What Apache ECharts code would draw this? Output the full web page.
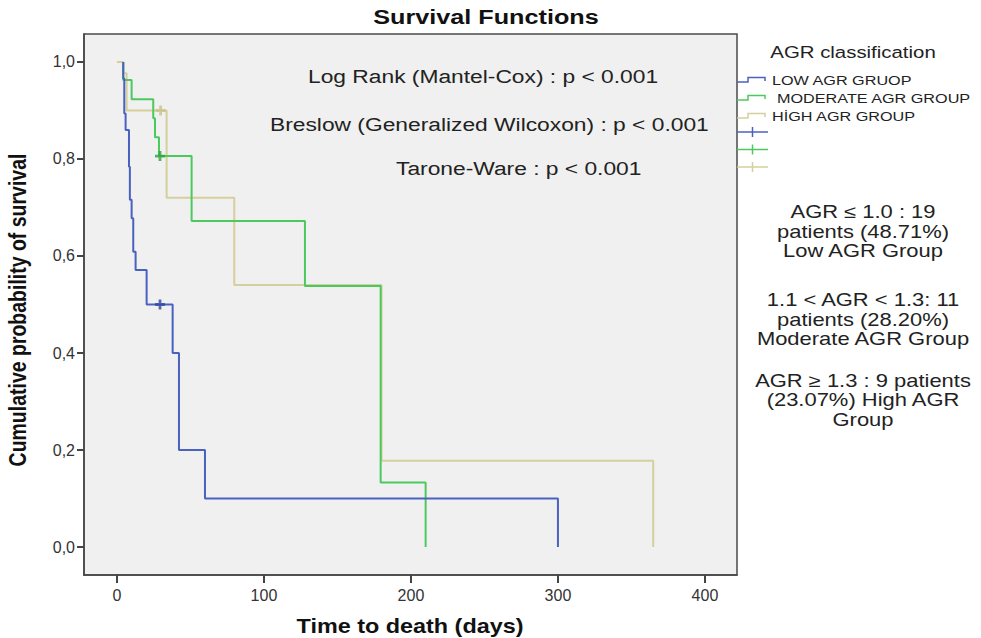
<!DOCTYPE html>
<html>
<head>
<meta charset="utf-8">
<script src="https://cdn.jsdelivr.net/npm/echarts@6/dist/echarts.min.js"></script>
<style>html,body{margin:0;padding:0;background:#fff;}#c{width:981px;height:638px;}</style>
</head>
<body>
<div id="c"></div>
<script>
// ---- data ----
const lowDays  = [4.3, 4.3, 5.0, 5.9, 8.2, 8.8, 10.0, 11.1, 12.7, 20.2, 37.9, 42.2, 59.9, 300];
const lowSurv  = [1, 0.966, 0.894, 0.86, 0.784, 0.716, 0.678, 0.609, 0.571, 0.5, 0.4, 0.2, 0.1, 0];
const modDays  = [4.3, 4.3, 10.0, 24.7, 25.9, 28.6, 50.8, 127.9, 179.4, 210];
const modSurv  = [1, 0.963, 0.923, 0.884, 0.845, 0.806, 0.672, 0.538, 0.133, 0];
const highDays = [0, 4.3, 6.6, 33.8, 79.8, 180, 364.8];
const highSurv = [1, 0.977, 0.9, 0.72, 0.54, 0.178, 0];
const lowCensorDays = [29.3],  lowCensorSurv = [0.5];
const modCensorDays = [29.3],  modCensorSurv = [0.806];
const highCensorDays = [29.7], highCensorSurv = [0.9];
const seriesNames = ['LOW AGR GRUOP', 'MODERATE AGR GROUP', 'HİGH AGR GROUP'];
const xTicks = [0, 100, 200, 300, 400];
const yTicks = [0, 0.2, 0.4, 0.6, 0.8, 1.0];
const testLines = ['Log Rank (Mantel-Cox) : p < 0.001', 'Breslow (Generalized Wilcoxon) : p < 0.001', 'Tarone-Ware : p < 0.001'];
const noteLines = [
  ['AGR \u2264 1.0 : 19', 'patients (48.71%)', 'Low AGR Group'],
  ['1.1 < AGR < 1.3: 11', 'patients (28.20%)', 'Moderate AGR Group'],
  ['AGR \u2265 1.3 : 9 patients', '(23.07%) High AGR', 'Group']
];

const zip = (a, b) => a.map((v, i) => [v, b[i]]);
const C = { low: '#4a62bf', mod: '#4cc95e', high: '#d5cf9c' };
const CC = { low: '#33479f', mod: '#2aa53d', high: '#c9c18c' };
const FONT = '"Liberation Sans", Arial, sans-serif';
const plus = 'path://M3.6,0H6.4V3.6H10V6.4H6.4V10H3.6V6.4H0V3.6H3.6Z';

const chart = echarts.init(document.getElementById('c'), null, { renderer: 'svg' });

function txt(x, y, text, size, opts) {
  opts = opts || {};
  return {
    type: 'text', x: x, y: y, z: 100,
    scaleX: opts.sx || 1, scaleY: opts.sy || 1, rotation: opts.rot || 0,
    style: {
      text: text, x: 0, y: 0,
      font: (opts.bold ? 'bold ' : '') + size + 'px ' + FONT,
      fill: opts.color || '#222',
      textAlign: opts.align || 'left', textVerticalAlign: 'middle'
    }
  };
}

const graphics = [];
graphics.push(txt(486, 17, 'Survival Functions', 21, { bold: true, align: 'center', sx: 1.2, color: '#111' }));
graphics.push(txt(308, 76, testLines[0], 19, { sx: 1.2 }));
graphics.push(txt(270, 124, testLines[1], 19, { sx: 1.2 }));
graphics.push(txt(396, 168, testLines[2], 19, { sx: 1.2 }));
graphics.push(txt(853, 52, 'AGR classification', 17, { align: 'center', sx: 1.2 }));
// legend
const legY = [80, 98, 116];
const legCols = [C.low, C.mod, C.high];
const legX = [772, 777, 772];
for (let i = 0; i < 3; i++) {
  const y = legY[i];
  graphics.push({ type: 'polyline', z: 100, shape: { points: [[737, y + 2], [748, y + 2], [748, y - 2.5], [765, y - 2.5], [765, y + 1]] }, style: { stroke: legCols[i], lineWidth: 1.5, fill: null } });
  graphics.push(txt(legX[i], y, seriesNames[i], 13.5, { sx: 1.2 }));
}
const cenY = [132, 149.5, 167];
for (let i = 0; i < 3; i++) {
  const y = cenY[i];
  graphics.push({ type: 'line', z: 100, shape: { x1: 737, y1: y, x2: 768, y2: y }, style: { stroke: legCols[i], lineWidth: 1.5 } });
  graphics.push({ type: 'line', z: 100, shape: { x1: 752.5, y1: y - 5, x2: 752.5, y2: y + 5 }, style: { stroke: legCols[i], lineWidth: 1.5 } });
}
// notes
const noteY = [[211.7, 231.7, 251], [300, 319.3, 338.3], [380.7, 400, 420]];
for (let b = 0; b < 3; b++) for (let l = 0; l < 3; l++)
  graphics.push(txt(863, noteY[b][l], noteLines[b][l], 18, { align: 'center', sx: 1.22 }));
// axis names
graphics.push(txt(410, 627, 'Time to death (days)', 19.5, { bold: true, align: 'center', sx: 1.2, color: '#111' }));
graphics.push(txt(18, 310, 'Cumulative probability of survival', 19.5, { bold: true, align: 'center', sy: 1.2, rot: Math.PI / 2, color: '#111' }));

const stepLine = (name, days, surv, color, z) => ({
  name: name, type: 'line', step: 'end', data: zip(days, surv), showSymbol: false, z: z,
  lineStyle: { color: color, width: 2 }, itemStyle: { color: color }, animation: false
});
const censor = (days, surv, color) => ({
  type: 'scatter', data: zip(days, surv), symbol: plus, symbolSize: 10, z: 10,
  itemStyle: { color: color }, animation: false
});

chart.setOption({
  animation: false,
  backgroundColor: '#fff',
  grid: { left: 84, top: 34, width: 653, height: 541, show: true, backgroundColor: '#f0f0f0', borderColor: '#4a4a4a', borderWidth: 1.5 },
  xAxis: {
    type: 'value', min: -22.4, max: 421.8,
    axisLine: { show: true, onZero: false, lineStyle: { color: '#444', width: 1.5 } },
    axisTick: { show: true, customValues: xTicks, length: 8, lineStyle: { color: '#444', width: 2 } },
    axisLabel: { customValues: xTicks, margin: 12, fontSize: 16, color: '#333', fontFamily: FONT },
    splitLine: { show: false }
  },
  yAxis: {
    type: 'value', min: -0.0577, max: 1.0577,
    axisLine: { show: true, onZero: false, lineStyle: { color: '#444', width: 1.5 } },
    axisTick: { show: true, customValues: yTicks, length: 7, lineStyle: { color: '#444', width: 2 } },
    axisLabel: { customValues: yTicks, margin: 9, fontSize: 16, color: '#333', fontFamily: FONT,
      formatter: v => v.toFixed(1).replace('.', ',') },
    splitLine: { show: false }
  },
  series: [
    stepLine(seriesNames[2], highDays, highSurv, C.high, 3),
    stepLine(seriesNames[1], modDays, modSurv, C.mod, 4),
    stepLine(seriesNames[0], lowDays, lowSurv, C.low, 5),
    censor(highCensorDays, highCensorSurv, CC.high),
    censor(modCensorDays, modCensorSurv, CC.mod),
    censor(lowCensorDays, lowCensorSurv, CC.low)
  ],
  graphic: graphics
});
</script>
</body>
</html>
